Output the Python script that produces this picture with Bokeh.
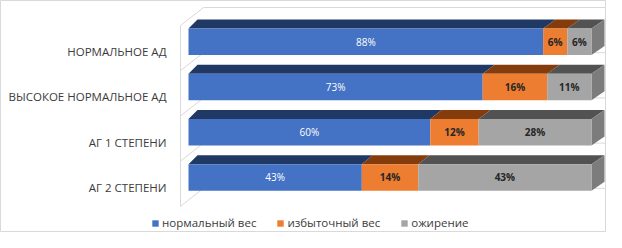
from bokeh.plotting import figure
from bokeh.models import ColumnDataSource, Legend, LegendItem
from bokeh.core.properties import value
from bokeh.embed import file_html
from bokeh.resources import INLINE

# ---- data ----
categories = ["НОРМАЛЬНОЕ АД", "ВЫСОКОЕ НОРМАЛЬНОЕ АД", "АГ 1 СТЕПЕНИ", "АГ 2 СТЕПЕНИ"]
series_names = ["нормальный вес", "избыточный вес", "ожирение"]
normal_weight = [88, 73, 60, 43]
over_weight = [6, 16, 12, 14]
obesity = [6, 11, 28, 43]

# ---- styles / layout ----
front_colors = ["#4472C4", "#ED7D31", "#A5A5A5"]
top_colors = ["#203864", "#843C0C", "#525252"]
side_color = "#7C7C7C"
label_colors = ["#FFFFFF", "#262626", "#262626"]
label_styles = ["normal", "bold", "bold"]
grid_color = "#D9D9D9"
text_color = "#3B3B3B"

W, H = 606, 232
SX = 4.03           # px per percent
X0 = 188.0          # frame px of 0 %
SY = 45.2           # px per category slot
Y0 = 55.1           # frame px (from bottom) of the lowest category centre
BH = 26.5 / SY      # bar front height in slot units
DEPTH_Y = 9.0 / SY  # bar top depth in slot units


def dx_px(pct):
    return 9.0 + 4.0 * pct / 100.0


p = figure(width=W, height=H, output_backend="svg", toolbar_location=None,
           x_range=(-X0 / SX, (W - X0) / SX), y_range=(-Y0 / SY, (H - Y0) / SY),
           min_border=0)
p.axis.visible = False
p.grid.visible = False
p.outline_line_color = "#D9D9D9"
p.background_fill_color = "white"
p.border_fill_color = "white"

n = len(categories)
ys = [n - 1 - i for i in range(n)]
series = [normal_weight, over_weight, obesity]

# ---- walls (category gridlines on side wall / back wall) ----
fx, fy = -8.0 / SX, -6.3 / SY      # front-plane offset
bx, by = 15.0 / SX, 11.7 / SY      # back-plane offset
bx_r = 16.0 / SX
bounds = [k - 0.5 for k in range(n + 1)]
xs_l, ys_l = [], []
for b in bounds:
    xs_l.append([fx, bx]); ys_l.append([b + fy, b + by])
    xs_l.append([bx, 100 + bx_r]); ys_l.append([b + by, b + by])
xs_l.append([fx, fx]); ys_l.append([bounds[0] + fy, bounds[-1] + fy])
xs_l.append([100 + bx_r, 100 + bx_r]); ys_l.append([bounds[0] + by, bounds[-1] + by])
p.multi_line(xs_l, ys_l, line_color=grid_color, line_width=1)

# ---- 3D faces ----
lefts = [[0] * n]
for s in series[:-1]:
    lefts.append([l + v for l, v in zip(lefts[-1], s)])
rights = [[l + v for l, v in zip(lefts[k], series[k])] for k in range(len(series))]

for k in range(len(series)):
    txs, tys = [], []
    for i in range(n):
        a, b = lefts[k][i], rights[k][i]
        yt = ys[i] + BH / 2
        txs.append([a, b, b + dx_px(b) / SX, a + dx_px(a) / SX])
        tys.append([yt, yt, yt + DEPTH_Y, yt + DEPTH_Y])
    p.patches(txs, tys, fill_color=top_colors[k], line_color=None)

sxs, sys_ = [], []
for i in range(n):
    t = rights[-1][i]
    yt, yb = ys[i] + BH / 2, ys[i] - BH / 2
    d = dx_px(t) / SX
    sxs.append([t, t + d, t + d, t])
    sys_.append([yt, yt + DEPTH_Y, yb + DEPTH_Y, yb])
p.patches(sxs, sys_, fill_color=side_color, line_color=None)

renderers = []
for k in range(len(series)):
    src = ColumnDataSource(dict(y=ys, left=lefts[k], right=rights[k],
                                mid=[(l + r) / 2 for l, r in zip(lefts[k], rights[k])],
                                txt=[f"{v}%" for v in series[k]]))
    r = p.hbar(y="y", left="left", right="right", height=BH, source=src,
               fill_color=front_colors[k], line_color=None)
    renderers.append(r)
    p.text(x="mid", y="y", text="txt", source=src, text_align="center",
           text_baseline="middle", text_color=label_colors[k],
           text_font=value("Open Sans"), text_font_size="10px",
           text_font_style=label_styles[k])

# ---- category labels ----
lab_src = ColumnDataSource(dict(x=[-22.0 / SX] * n, y=[y - 9.9 / SY for y in ys], t=categories))
p.text(x="x", y="y", text="t", source=lab_src, text_align="right", text_baseline="middle",
       text_color=text_color, text_font=value("Open Sans"), text_font_size="11.5px")

# ---- legend ----
legend = Legend(items=[LegendItem(label=s, renderers=[r]) for s, r in zip(series_names, renderers)],
                orientation="horizontal", location=(151, 2), glyph_width=8, glyph_height=8,
                label_standoff=3, spacing=20, padding=0, margin=0,
                label_text_font="Open Sans", label_text_font_size="11.5px",
                label_text_color=text_color, border_line_alpha=0, background_fill_alpha=0,
                label_height=8)
p.add_layout(legend)

open("out.html", "w").write(file_html(p, INLINE))
